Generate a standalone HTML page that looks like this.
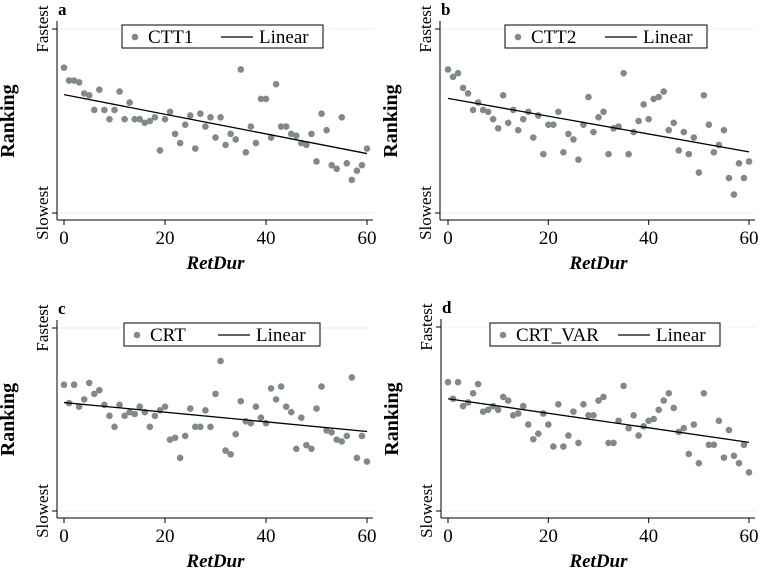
<!DOCTYPE html>
<html><head><meta charset="utf-8"><style>
html,body{margin:0;padding:0;background:#fff;}
svg{display:block;font-family:"Liberation Serif",serif;}
</style></head><body>
<svg id="chart" width="760" height="571" viewBox="0 0 760 571"></svg>
<script>
const retDur = [];
for (let i = 0; i <= 60; i++) retDur.push(i);
const xTicks = [0, 20, 40, 60];
const ctt1 = [79,72,72,71,65,64,56,67,56,51,56,66,51,60,51,51,49,50,52,34,51,55,43,38,48,53,35,54,47,52,41,52,37,43,40,78,33,47,38,62,62,41,70,47,47,43,42,38,37,43,28,54,45,26,24,52,27,18,23,26,35];
const ctt2 = [78,74,76,68,65,56,60,56,55,51,46,64,49,56,45,51,55,41,53,32,48,48,55,33,43,40,29,48,63,44,52,55,32,46,47,76,32,44,50,59,51,62,63,66,45,49,34,44,32,41,22,64,48,33,37,45,19,10,27,19,28];
const crt = [69,59,69,57,61,70,64,66,58,52,46,58,52,54,53,57,54,46,52,55,57,39,40,29,41,56,46,46,55,46,64,82,33,31,42,60,49,48,57,51,48,67,61,68,57,54,34,51,36,34,56,68,44,43,39,38,41,73,29,41,27];
const crtVar = [70,61,70,57,59,64,69,54,55,57,55,62,60,52,53,57,47,39,42,53,47,35,58,35,41,54,37,58,52,52,60,62,37,37,49,68,45,52,41,46,49,50,55,60,64,56,43,45,31,47,26,64,36,36,49,29,44,30,26,36,21];
const panelLetters = ["a","b","c","d"];
const seriesNames = ["CTT1","CTT2","CRT","CRT_VAR"];

const panels = [
  {data: ctt1, ax: 57, x0: 64, x1: 367, yTop: 29, yBot: 213, base: 220, legX: 122, legW: 201, legY: 25},
  {data: ctt2, ax: 440, x0: 448, x1: 749, yTop: 29, yBot: 213, base: 220, legX: 505, legW: 202, legY: 25},
  {data: crt, ax: 57, x0: 64, x1: 367, yTop: 328, yBot: 511, base: 518, legX: 124, legW: 196, legY: 323},
  {data: crtVar, ax: 441, x0: 448, x1: 749, yTop: 327, yBot: 511, base: 518, legX: 490, legW: 230, legY: 323}
];
const NS = "http://www.w3.org/2000/svg";
const svg = document.getElementById("chart");
function mk(tag, attrs, parent) {
  const e = document.createElementNS(NS, tag);
  for (const k in attrs) e.setAttribute(k, attrs[k]);
  parent.appendChild(e);
  return e;
}
panels.forEach((p, pi) => {
  const g = mk("g", {}, svg);
  
  
  const xs = v => p.x0 + (v - 0) / 60 * (p.x1 - p.x0);
  const ys = v => p.yBot - v / 100 * (p.yBot - p.yTop);
  const right = p.x1 + 6;
  [0, 100].forEach(v => {
    const gl = mk("line", {x1: p.ax, x2: right, y1: ys(v), y2: ys(v), stroke: "#eaf2f2", "stroke-width": 1}, g);
    
    
  });
  const ya = mk("line", {x1: p.ax, x2: p.ax, y1: p.yTop - 8, y2: p.base, stroke: "#000", "stroke-width": 1}, g);
  
  
  const xa = mk("line", {x1: p.ax, x2: right, y1: p.base, y2: p.base, stroke: "#000", "stroke-width": 1}, g);
  
  
  [[100, "Fastest"], [0, "Slowest"]].forEach(([v, lab]) => {
    const t = mk("line", {x1: p.ax - 5, x2: p.ax, y1: ys(v), y2: ys(v), stroke: "#000"}, g);
    
    
    const tx = mk("text", {x: p.ax - 9, y: ys(v), "font-size": 17, "text-anchor": "middle", transform: `rotate(-90 ${p.ax - 9} ${ys(v)})`}, g);
    tx.textContent = lab;
    
    
  });
  xTicks.forEach(v => {
    const t = mk("line", {x1: xs(v), x2: xs(v), y1: p.base, y2: p.base + 5, stroke: "#000"}, g);
    
    
    const tx = mk("text", {x: xs(v), y: p.base + 24, "font-size": 19, "text-anchor": "middle"}, g);
    tx.textContent = v;
    
    
  });
  const xt = mk("text", {x: (p.x0 + p.x1) / 2, y: p.base + 49, "font-size": 19, "font-weight": "bold", "font-style": "italic", "text-anchor": "middle"}, g);
  xt.textContent = "RetDur";
  
  
  const cy = (p.yTop + p.yBot) / 2;
  const ytx = p.ax - 43;
  const yt = mk("text", {x: ytx, y: cy, "font-size": 20, "font-weight": "bold", "text-anchor": "middle", transform: `rotate(-90 ${ytx} ${cy})`}, g);
  yt.textContent = "Ranking";
  
  
  const lt = mk("text", {x: p.ax + 1, y: p.yTop - 14, "font-size": 17, "font-weight": "bold"}, g);
  lt.textContent = panelLetters[pi];
  
  
  const n = p.data.length;
  let sx = 0, sy = 0, sxx = 0, sxy = 0;
  p.data.forEach((v, i) => { const x = retDur[i]; sx += x; sy += v; sxx += x * x; sxy += x * v; });
  const b = (n * sxy - sx * sy) / (n * sxx - sx * sx);
  const a = (sy - b * sx) / n;
  p.data.forEach((v, i) => {
    const c = mk("circle", {cx: xs(retDur[i]), cy: ys(v), r: 3.3, fill: "#808a87"}, g);
    
    
  });
  const ln = mk("line", {x1: xs(0), y1: ys(a), x2: xs(60), y2: ys(a + b * 60), stroke: "#000", "stroke-width": 1.3}, g);
  
  
  const lg = mk("g", {}, g);
  
  
  mk("rect", {x: p.legX, y: p.legY, width: p.legW, height: 23, fill: "#fff", stroke: "#000", "stroke-width": 1}, lg);
  mk("circle", {cx: p.legX + 13, cy: p.legY + 12, r: 3.3, fill: "#808a87"}, lg);
  const ls = mk("text", {x: p.legX + 26, y: p.legY + 18, "font-size": 19}, lg);
  ls.textContent = seriesNames[pi];
  
  
  const lx = p.legX + p.legW - 60;
  mk("line", {x1: lx - 42, x2: lx - 10, y1: p.legY + 12, y2: p.legY + 12, stroke: "#000", "stroke-width": 1.3}, lg);
  const ll = mk("text", {x: lx - 4, y: p.legY + 18, "font-size": 19}, lg);
  ll.textContent = "Linear";
  
  
});
</script>
</body></html>
